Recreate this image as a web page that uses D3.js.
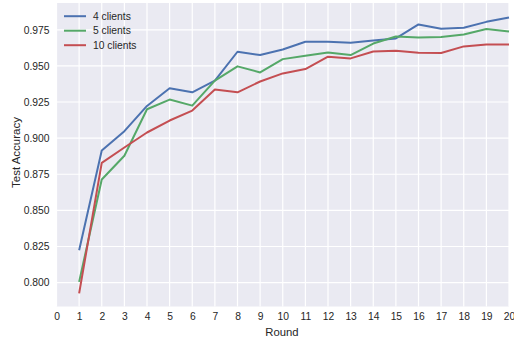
<!DOCTYPE html>
<html>
<head>
<meta charset="utf-8">
<script src="https://cdn.jsdelivr.net/npm/d3@7"></script>
<style>
  html, body { margin: 0; padding: 0; background: #fff; }
  svg { display: block; }
  text { font-family: "Liberation Sans", Arial, sans-serif; }
</style>
</head>
<body>
<svg id="chart" width="514" height="342"></svg>
<script>
// Test accuracy per training round for different client counts
const rounds = d3.range(1, 21);
const acc4 = [0.8224, 0.8914, 0.9048, 0.9223, 0.9345, 0.9317, 0.9398, 0.9598, 0.9575, 0.9614,
              0.9667, 0.9667, 0.9660, 0.9676, 0.9690, 0.9787, 0.9757, 0.9764, 0.9805, 0.9835];
const acc5 = [0.8005, 0.8714, 0.8878, 0.9200, 0.9267, 0.9225, 0.9398, 0.9497, 0.9455, 0.9547,
              0.9570, 0.9593, 0.9575, 0.9655, 0.9704, 0.9697, 0.9700, 0.9718, 0.9755, 0.9738];
const acc10 = [0.7925, 0.8829, 0.8935, 0.9039, 0.9122, 0.9191, 0.9336, 0.9317, 0.9392, 0.9448,
               0.9478, 0.9564, 0.9552, 0.9600, 0.9605, 0.9591, 0.9589, 0.9635, 0.9649, 0.9649];
const seriesNames = ["4 clients", "5 clients", "10 clients"];
const seriesColors = ["#4C72B0", "#55A868", "#C44E52"];
const xTicks = d3.range(0, 21);
const yTicks = [0.800, 0.825, 0.850, 0.875, 0.900, 0.925, 0.950, 0.975];

const series = [acc4, acc5, acc10].map((vals, i) => ({
  name: seriesNames[i], color: seriesColors[i],
  points: vals.map((v, j) => ({ x: rounds[j], y: v }))
}));

const svg = d3.select("#chart");
const plot = { left: 56.5, right: 509, top: 3, bottom: 306.5 };

const x = d3.scaleLinear().domain([0, 20]).range([plot.left, plot.right]);
const y = d3.scaleLinear().domain([0.78345, 0.99355]).range([plot.bottom, plot.top]);

// Plot background
svg.append("rect")
  .attr("x", plot.left).attr("y", plot.top)
  .attr("width", plot.right - plot.left).attr("height", plot.bottom - plot.top)
  .attr("fill", "#EAEAF2");

// Grid lines
const grid = svg.append("g");
grid.selectAll("line.vx").data(xTicks).join("line")
  .attr("x1", d => x(d)).attr("x2", d => x(d))
  .attr("y1", plot.top).attr("y2", plot.bottom)
  .attr("stroke", "#fff").attr("stroke-width", 1.2);
grid.selectAll("line.hy").data(yTicks).join("line")
  .attr("y1", d => y(d)).attr("y2", d => y(d))
  .attr("x1", plot.left).attr("x2", plot.right)
  .attr("stroke", "#fff").attr("stroke-width", 1.2);

// Axes (labels only, seaborn darkgrid style)
const xAxis = svg.append("g")
  .attr("transform", `translate(0,${plot.bottom})`)
  .call(d3.axisBottom(x).tickValues(xTicks).tickFormat(d3.format("d")).tickSize(0).tickPadding(6));
const yAxis = svg.append("g")
  .attr("transform", `translate(${plot.left},0)`)
  .call(d3.axisLeft(y).tickValues(yTicks).tickFormat(d3.format(".3f")).tickSize(0).tickPadding(7));
[xAxis, yAxis].forEach(a => {
  a.select(".domain").remove();
  a.selectAll("text").attr("fill", "#262626").style("font-size", "10.3px")
    .style("font-family", "'Liberation Sans', Arial, sans-serif");
});

// Axis titles
svg.append("text")
  .attr("x", 282).attr("y", 336)
  .attr("text-anchor", "middle").attr("fill", "#262626")
  .style("font-size", "11.3px").text("Round");
svg.append("text")
  .attr("transform", `translate(19.5,152.5) rotate(-90)`)
  .attr("text-anchor", "middle").attr("fill", "#262626")
  .style("font-size", "11.5px").text("Test Accuracy");

// Data lines
const line = d3.line().x(d => x(d.x)).y(d => y(d.y));
svg.append("g").selectAll("path").data(series).join("path")
  .attr("d", d => line(d.points))
  .attr("fill", "none")
  .attr("stroke", d => d.color)
  .attr("stroke-width", 2)
  .attr("stroke-linejoin", "round")
  .attr("stroke-linecap", "butt");

// Legend
const legend = svg.append("g");
const rows = legend.selectAll("g").data(series).join("g")
  .attr("transform", (d, i) => `translate(64,${16.2 + i * 14.5})`);
rows.append("line")
  .attr("x1", 0).attr("x2", 22).attr("y1", 0).attr("y2", 0)
  .attr("stroke", d => d.color).attr("stroke-width", 2);
rows.append("text")
  .attr("x", 29).attr("y", 0).attr("dy", "0.35em")
  .attr("fill", "#262626").style("font-size", "10.3px")
  .text(d => d.name);
</script>
</body>
</html>
